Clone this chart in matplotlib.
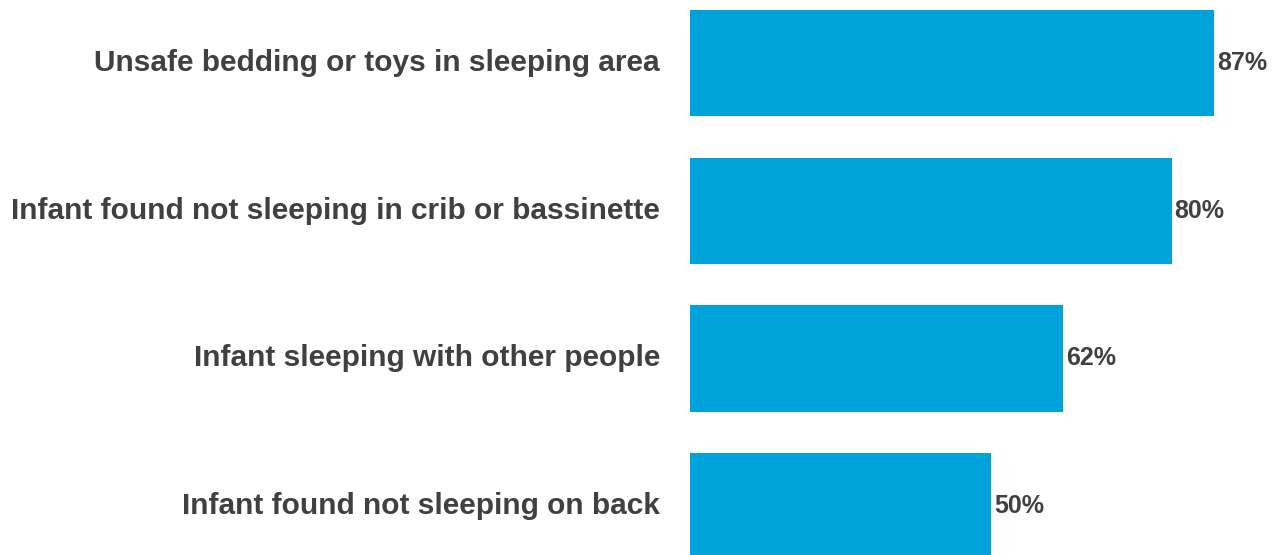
import matplotlib
matplotlib.use('Agg')
import matplotlib.pyplot as plt

# risk factors found in sleep-related infant deaths
factors = ['Unsafe bedding or toys in sleeping area',
           'Infant found not sleeping in crib or bassinette',
           'Infant sleeping with other people',
           'Infant found not sleeping on back']
percents = [87, 80, 62, 50]

bar_color = '#00a3d9'
text_color = '#404040'

plt.rcParams['font.family'] = ['Liberation Sans', 'DejaVu Sans']

fig = plt.figure(figsize=(12.74, 5.55), dpi=100)
ax = fig.add_axes([690 / 1274, 0, 1 - 690 / 1274, 1])

pos = list(range(len(factors)))
bars = ax.barh(pos, percents, height=0.72, color=bar_color)

ax.set_xlim(0, 97)
ax.set_ylim(3.331, -0.4265)
ax.axis('off')

for p, v, name in zip(pos, percents, factors):
    ax.text(v + 0.5, p, f'{v}%', ha='left', va='center', fontsize=18,
            fontweight='bold', color=text_color)
    ax.annotate(name, xy=(0, p), xytext=(-30, 0), textcoords='offset pixels',
                ha='right', va='center', fontsize=21.5, fontweight='bold',
                color=text_color, annotation_clip=False)

fig.savefig('out.png', dpi=100, facecolor='white')
